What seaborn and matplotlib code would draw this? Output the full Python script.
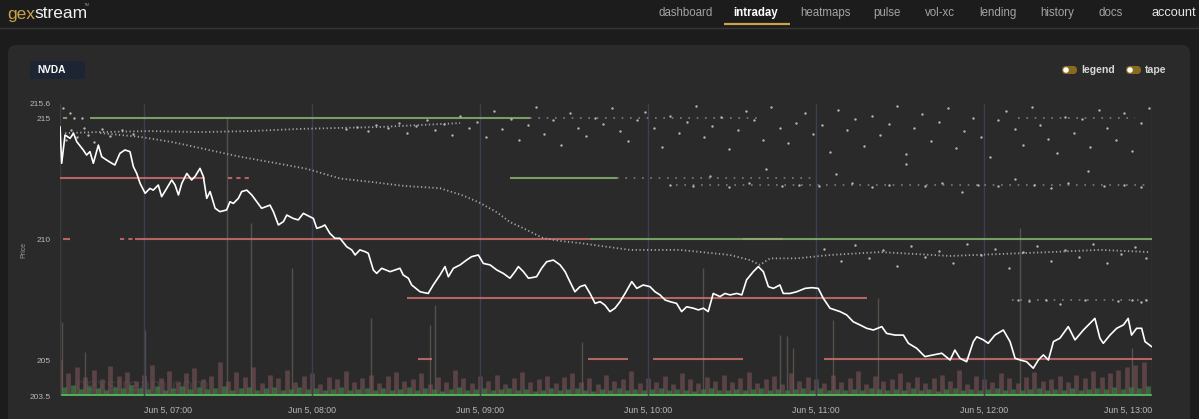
# plot.py
# gexstream intraday view for NVDA, rebuilt with seaborn / matplotlib
import numpy as np
import pandas as pd
import matplotlib.pyplot as plt
import seaborn as sns
from matplotlib.patches import FancyBboxPatch, Circle

# ---- price line (minutes after 06:30, price) ----
price_t = [0, 0.6, 1.8, 3.6, 4.8, 6, 8.3, 9.5, 10.7, 11.9, 13.7, 14.9, 16.7, 18.5, 19.6,
           21.4, 23.2, 25, 26.2, 27.4, 28.6, 30.4, 32.1, 33.3, 35.1, 36.3, 38.1, 39.9, 41.1,
           42.3, 43.5, 45.3, 47, 48.2, 50, 51.2, 52.4, 53.6, 55.4, 57.1, 59.5, 60.7, 61.9,
           63.7, 64.9, 66.7, 68.5, 70.3, 72, 75, 76.2, 78, 79.8, 81, 83.3, 85.1, 86.9, 89.3,
           90.5, 91.7, 93.5, 94.6, 96.4, 98.2, 100, 102.4, 104.2, 105.4, 107.1, 108.9, 110.1,
           111.9, 113.1, 114.9, 117.9, 119.6, 121.4, 122.6, 124.4, 125.6, 128.6, 131.5, 133.3,
           135.7, 137.5, 138.7, 140.5, 142.9, 145.2, 147, 149.4, 151.2, 153.6, 156, 158.3,
           160.7, 162.5, 163.7, 165.5, 167.3, 170.2, 172, 173.8, 176.2, 178.6, 180.4, 182.1,
           183.9, 185.7, 187.5, 189.3, 191.1, 192.9, 194.6, 196.4, 198.2, 200, 201.8, 204.2,
           206, 208.3, 210.7, 212.5, 214.3, 216.1, 217.9, 220.2, 222, 223.8, 226.2, 228,
           229.8, 231.5, 233.3, 235.7, 237.5, 239.3, 241.7, 243.5, 245.2, 247.6, 249.4, 251.2,
           253, 254.8, 257.1, 258.3, 260.7, 263.1, 266.1, 268.5, 270.8, 272.6, 275,
           278.6, 281, 283.3, 285.7, 288.1, 290.5, 293.5, 295.2, 298.2, 301.2, 303, 306,
           308.9, 311.9, 314.9, 317.9, 319.6, 321.4, 323.8, 326.2, 327.4, 329.8, 331.5, 333.9,
           336.9, 339.3, 341.1, 342.9, 345.2, 347.6, 349.4, 351.2, 353, 354.8, 357.1, 360.1,
           362.5, 365.5, 367.3, 369.6, 371.4, 372.6, 375, 377.4, 379.8, 381.5, 382.7, 384.5,
           386.3, 387.5, 389.9]
price_p = [214.64, 213.13, 214.30, 214.16, 214.37, 214.02, 213.68, 213.47, 213.61, 213.13,
           213.88, 213.40, 213.26, 213.13, 213.06, 213.54, 213.68, 213.61, 212.99, 212.71,
           212.30, 211.89, 212.09, 212.02, 212.23, 211.75, 212.09, 212.44, 212.23, 211.82,
           212.30, 212.71, 212.44, 212.58, 212.92, 212.58, 211.68, 211.96, 211.27, 211.13,
           211.20, 211.54, 211.47, 211.68, 211.96, 212.02, 211.82, 211.54, 211.27, 211.40,
           211.13, 210.58, 210.72, 210.99, 210.85, 210.79, 211.06, 210.92, 210.85, 210.44,
           210.51, 210.58, 210.23, 210.03, 210.03, 209.68, 209.55, 209.34, 209.55, 209.48,
           209.41, 208.72, 208.58, 208.79, 208.65, 208.72, 208.79, 208.51, 208.38, 208.10,
           207.82, 207.75, 208.10, 208.51,
           208.86, 208.44, 208.79, 208.93, 209.13, 209.27, 209.34, 208.99, 208.93, 208.72,
           208.58, 208.38, 208.65, 208.86, 208.65, 208.38, 208.44, 208.79, 209.06, 209.13,
           208.93, 208.65, 208.24, 207.82, 208.03, 208.10, 207.75, 207.34, 207.41, 207.27,
           207.00, 207.14, 207.41, 207.75, 208.24, 207.96, 208.10, 208.03, 207.82, 207.69,
           207.48, 207.41, 207.34, 207.00, 207.20, 207.14, 207.07, 207.14, 207.00, 207.75,
           207.62, 207.75, 207.69, 207.75, 207.69, 208.31, 208.65, 208.86, 208.65, 208.03,
           207.96, 208.10, 207.75, 207.75, 207.82, 207.96, 207.99, 207.96, 207.55, 207.14,
           207.00, 206.86, 206.58, 206.45, 206.31, 206.24, 206.38, 206.10, 206.03, 206.03,
           205.69, 205.48, 205.14, 205.21, 205.28, 205.00, 205.41, 205.07, 204.93, 205.76,
           205.96, 205.83, 205.69, 206.03, 206.24, 205.76, 205.07, 205.00, 204.93, 204.66,
           205.00, 205.21, 205.00, 205.76, 205.90, 206.38, 205.83, 206.24, 206.45, 206.72,
           205.90, 205.69, 206.03, 206.31, 206.45, 206.72, 206.03, 206.31, 206.31, 205.76,
           205.55]

# ---- dotted trails ----
upper_t = [1.8, 14.3, 32.1, 50, 67.9, 85.7, 100, 114.3, 128.6, 142.9]
upper_p = [214.38, 214.42, 214.46, 214.42, 214.46, 214.55, 214.59, 214.63, 214.71, 214.79]
lower_t = [14.3, 28.6, 40.4, 50, 64.3, 75, 88.2, 100, 111.8, 123.2, 135.7, 143.9, 150, 156.1,
           160.7, 165.4, 172.5, 178.6, 185.7, 203.6, 221.4, 239.3, 246.4, 250, 253.6, 263.2,
           275, 292.9, 317.9, 335.7, 353.6, 371.4, 389.3]
lower_p = [214.38, 214.22, 214.0, 213.76, 213.4, 213.18, 212.9, 212.5, 212.35, 212.19, 212.1,
           211.8, 211.49, 211.1, 210.7, 210.45, 210.04, 209.92, 209.83, 209.55, 209.55, 209.34,
           209.13, 208.93, 209.2, 209.2, 209.34, 209.46, 209.3, 209.38, 209.46, 209.55, 209.46]

# ---- scattered prints ----
cloud_t = [1, 2, 3.5, 4, 5, 6, 8, 8.5, 10, 12, 15, 18, 22, 26,
           102, 106, 110, 113, 117, 121, 124, 127, 131, 134, 137, 140, 143, 146, 149, 152,
           155, 158, 161, 164, 167, 170, 173, 176, 179, 182, 185, 188, 191, 194, 197, 200,
           203, 206, 209, 212, 215, 218, 221, 224, 227, 230, 233, 236, 239, 242, 245, 248,
           251, 254, 257, 260, 263, 266, 269, 272, 275, 278, 281, 284, 287, 290, 293, 296,
           299, 302, 305, 308, 311, 314, 317, 320, 323, 326, 329, 332, 335, 338, 341, 344,
           347, 350, 353, 356, 359, 362, 365, 368, 371, 374, 377, 380, 383, 386, 389,
           218, 226, 232, 239, 246, 252, 258, 264, 271, 277, 283, 290, 296, 302, 309, 315,
           322, 328, 335, 341, 348, 354, 360, 367, 373, 380, 386,
           273, 279, 284, 289, 294, 299, 304, 309, 314, 319, 324, 329, 334, 339, 344, 349,
           354, 359, 364, 369, 374, 379, 384, 388,
           342, 346, 352, 357, 366, 378, 383, 386, 388]
cloud_p = [215.4, 214.1, 215.2, 214.5, 215.0, 214.2, 215.0, 214.6, 214.3, 214.0, 214.55,
           214.25, 214.5, 214.35,
           214.55, 214.62, 214.45, 214.7, 214.58, 214.8, 214.4, 214.66, 214.9, 214.5, 214.75,
           214.3, 215.1, 214.6, 214.85, 214.2, 215.3, 214.55, 214.95, 214.1, 214.7, 215.45,
           214.35, 214.9, 213.9, 215.2, 214.6, 214.25, 215.0, 214.75, 215.4, 214.45, 214.05,
           214.9, 215.25, 214.6, 213.8, 215.1, 214.4, 214.85, 215.5, 214.2, 214.65, 215.05,
           213.7, 214.5, 215.3, 214.9, 214.1, 215.45, 214.6, 213.95, 214.8, 215.2, 214.35,
           214.7, 213.6, 215.35, 214.5, 214.95, 213.85, 215.1, 214.3, 214.75, 215.5, 213.5,
           214.6, 215.15, 214.05, 214.85, 215.4, 213.75, 214.45, 215.0, 214.2, 213.4, 214.9,
           215.3, 214.55, 213.9, 215.45, 214.7, 214.15, 213.55, 215.05, 214.4, 214.95, 213.8,
           215.35, 214.6, 214.1, 215.2, 213.65, 214.8, 215.4,
           212.25, 212.2, 212.6, 212.15, 212.3, 212.9, 212.2, 212.25, 212.2, 212.7, 212.3,
           212.15, 212.25, 213.1, 212.2, 212.3, 211.95, 212.25, 212.2, 212.5, 212.25, 212.1,
           212.3, 212.8, 212.2, 212.25, 212.15,
           209.6, 209.1, 209.75, 209.2, 209.55, 208.9, 209.7, 209.25, 209.5, 209.0, 209.8,
           209.35, 209.6, 208.8, 209.45, 209.7, 209.1, 209.55, 209.25, 209.8, 209.0, 209.4,
           209.65, 209.2,
           207.5, 207.45, 207.5, 207.3, 207.5, 207.45, 207.5, 207.4, 207.5]

# ---- key levels: price, start, end, kind ----
lvl_p = [212.51, 212.51, 210.0, 210.0, 210.0, 210.0, 207.56, 205.04, 205.04, 205.04, 205.04,
         215.0, 215.0, 212.51, 210.0, 210.0,
         215.0, 215.0, 212.51, 212.22, 207.5]
lvl_a = [0, 60, 1.0, 21.4, 26.8, 244, 123.9, 127.9, 188.6, 211.8, 272.9,
         1.0, 10.7, 160.7, 189.3, 194,
         168, 342, 199, 220, 340]
lvl_b = [51.8, 69, 3.6, 26.8, 189.3, 258.2, 288.2, 132.9, 202.9, 243.9, 390,
         3.6, 167.9, 198.9, 194, 390,
         250, 384, 269, 389, 389]
lvl_k = ['red', 'red_dot', 'red', 'red_dot', 'red', 'red', 'red', 'red', 'red', 'red', 'red',
         'green_dot', 'green', 'green', 'green', 'green',
         'grey_dot', 'grey_dot', 'grey_dot', 'grey_dot', 'grey_dot']

# ---- volume (3 minute slots) ----
vol_t = np.arange(0, 390, 3)
buy_vol = [38, 45, 30, 42, 35, 28, 40, 33, 47, 36, 30, 41, 27, 35, 44, 31, 38, 29, 36, 42,
           25, 33, 39, 28, 34, 40, 26, 31, 37, 29, 35, 27, 32, 38, 24, 30, 36, 28, 33, 25,
           31, 37, 26, 34, 29, 23, 32, 38, 27, 30, 35, 24, 29, 33, 26, 31, 22, 28, 34, 25,
           30, 36, 27, 23, 32, 28, 35, 26, 30, 24, 29, 33, 25, 31, 27, 22, 30, 35, 26, 28,
           32, 24, 29, 34, 27, 31, 25, 30, 36, 28, 33, 26, 29, 24, 31, 27, 35, 30, 25, 32,
           28, 34, 26, 30, 23, 29, 33, 27, 31, 25, 30, 36, 28, 32, 26, 29, 34, 27, 31, 25,
           33, 28, 30, 35, 29, 37, 32, 40, 36, 44]
sell_vol = [150, 95, 120, 80, 110, 70, 125, 85, 100, 65, 90, 130, 75, 105, 60, 95, 115, 70, 85, 140,
            65, 100, 80, 120, 55, 90, 75, 110, 60, 85, 95, 50, 80, 70, 105, 60, 75, 90, 55, 85,
            100, 65, 70, 95, 50, 80, 60, 110, 75, 55, 85, 65, 90, 50, 75, 100, 60, 70, 85, 55,
            80, 95, 60, 75, 50, 90, 65, 70, 105, 55, 75, 60, 85, 50, 95, 70, 55, 80, 65, 90,
            60, 75, 100, 55, 70, 85, 50, 95, 65, 80, 70, 55, 90, 60, 75, 105, 50, 85, 65, 70,
            95, 60, 80, 55, 75, 90, 65, 110, 50, 85, 70, 60, 95, 75, 55, 80, 100, 65, 70, 85,
            60, 90, 75, 105, 80, 95, 110, 120, 130, 140]
spike_t = [0.7, 8.9, 30.4, 59.6, 68.2, 82.9, 111.1, 132.1, 133.9, 186.4, 229.6, 257.1, 259.6,
           261.8, 276.1, 292.1, 342.9, 382.9]
spike_v = [307, 183, 274, 1150, 716, 530, 324, 295, 377, 224, 530, 253, 250, 200, 315, 406,
           695, 200]

# ---- axis labels ----
hour_t = [30, 90, 150, 210, 270, 330, 390]
hour_lbl = ['Jun 5, 07:00', 'Jun 5, 08:00', 'Jun 5, 09:00', 'Jun 5, 10:00',
            'Jun 5, 11:00', 'Jun 5, 12:00', 'Jun 5, 13:00']
ytick_v = [203.5, 205, 210, 215, 215.6]
ytick_lbl = ['203.5', '205', '210', '215', '215.6']
nav_items = ['dashboard', 'intraday', 'heatmaps', 'pulse', 'vol-xc', 'lending', 'history', 'docs']
nav_x = [686, 756, 825, 887, 940, 998, 1057, 1111]

sns.set_theme(style="dark")
plt.rcParams['font.family'] = ['Liberation Sans', 'DejaVu Sans']

W, H = 1199, 419
fig = plt.figure(figsize=(W / 100, H / 100), dpi=100)
fig.patch.set_facecolor('#1c1c1c')

# page chrome in pixel coordinates
bg = fig.add_axes([0, 0, 1, 1])
bg.set_xlim(0, W)
bg.set_ylim(H, 0)
bg.axis('off')
bg.axhline(28.5, color='#363636', lw=1)
bg.add_patch(FancyBboxPatch((8, 45), 1182, 420, boxstyle='round,pad=0,rounding_size=8',
                            fc='#2a2a2a', ec='none'))
bg.text(7, 14, 'gex', color='#c9a24a', fontsize=12.5, va='center', ha='left')
bg.text(34, 14, 'stream', color='#f2f2f2', fontsize=12.5, va='center', ha='left')
bg.text(84, 5, 'TM', color='#8a8a8a', fontsize=3, va='center', ha='left')
for name, x in zip(nav_items, nav_x):
    if name == 'intraday':
        bg.text(x, 13, name, color='white', fontsize=8.3, fontweight='bold', ha='center', va='center')
    else:
        bg.text(x, 13, name, color='#a3a3a3', fontsize=8.3, ha='center', va='center')
bg.text(1174, 13, 'account', color='#e6e6e6', fontsize=9.2, ha='center', va='center')
bg.plot([724, 790], [24, 24], color='#c9a24a', lw=1.6, solid_capstyle='butt')

# ticker badge and toggles
bg.add_patch(FancyBboxPatch((30, 61), 55, 18, boxstyle='round,pad=0,rounding_size=2',
                            fc='#1d2433', ec='none'))
bg.text(37, 70, 'NVDA', color='white', fontsize=7.3, fontweight='bold', va='center')
for px, label in [(1062, 'legend'), (1126, 'tape')]:
    bg.add_patch(FancyBboxPatch((px, 66), 15, 8, boxstyle='round,pad=0,rounding_size=4',
                                fc='#8a6a1f', ec='none'))
    bg.add_patch(Circle((px + 4, 70), 2.8, fc='white', ec='none'))
    bg.text(px + 19, 70, label, color='#d6d6d6', fontsize=7.6, fontweight='bold', va='center')
bg.text(24, 250, 'Price', color='#9a9a9a', fontsize=5, rotation=90, ha='center', va='center')

rect = [60 / W, 1 - 396.3 / H, 1092 / W, 292.8 / H]

# volume underlay
axv = fig.add_axes(rect)
axv.set_xlim(0, 390)
axv.set_ylim(0, 1210)
axv.axis('off')
axv.text(5.5, 42, 'gexstream.com', color='#3b3b3b', fontsize=14, va='center', zorder=1)
axv.vlines(spike_t, 0, spike_v, color='#5e5a52', lw=1, alpha=0.8, zorder=2)
axv.vlines(vol_t, 0, sell_vol, color='#7a5458', lw=3.4, alpha=0.6, zorder=3)
axv.vlines(vol_t + 1.5, 0, buy_vol, color='#3f7d44', lw=3.4, alpha=0.75, zorder=4)
axv.axhline(4, color='#55b05a', lw=1.4, zorder=5)

# price axes
ax = fig.add_axes(rect)
ax.set_facecolor('none')
ax.set_xlim(0, 390)
ax.set_ylim(203.5, 215.6)
for s in ax.spines.values():
    s.set_visible(False)
ax.grid(False)
ax.vlines(hour_t, 203.5, 215.6, color='#3b4050', lw=1, zorder=0)
ax.axvline(0, color='#3d3d3d', lw=1, zorder=0)

styles = {'red': dict(color='#cf6e6e', lw=1.5, ls='-'),
          'red_dot': dict(color='#cf6e6e', lw=1.5, ls=(0, (2, 2))),
          'green': dict(color='#86b46e', lw=1.5, ls='-'),
          'green_dot': dict(color='#86b46e', lw=1.5, ls=(0, (2, 2))),
          'grey_dot': dict(color='#8a8a8a', lw=1.2, ls=(0, (1, 4)))}
for p, a, b, k in zip(lvl_p, lvl_a, lvl_b, lvl_k):
    ax.hlines(p, a, b, colors=styles[k]['color'], linewidth=styles[k]['lw'],
              linestyles=[styles[k]['ls']], zorder=2, alpha=0.85)

ax.plot(upper_t, upper_p, color='#a5a5a5', lw=1.3, ls=(0, (0.7, 1.4)), zorder=3)
ax.plot(lower_t, lower_p, color='#a5a5a5', lw=1.3, ls=(0, (0.7, 1.4)), zorder=3)
sns.scatterplot(x=cloud_t, y=cloud_p, ax=ax, s=3, color='#b4b4b4', linewidth=0,
                zorder=3, legend=False)

df = pd.DataFrame({'t': price_t, 'price': price_p})
sns.lineplot(data=df, x='t', y='price', ax=ax, color='white', linewidth=1.2,
             estimator=None, sort=False, zorder=5)

ax.set_xlabel('')
ax.set_ylabel('')
ax.set_xticks(hour_t)
ax.set_xticklabels(hour_lbl)
ax.set_yticks(ytick_v)
ax.set_yticklabels(ytick_lbl)
ax.tick_params(axis='x', length=0, pad=7, labelsize=6.3, colors='#b8b8b8')
ax.tick_params(axis='y', length=0, pad=7, labelsize=6, colors='#b8b8b8')
labels = ax.get_xticklabels()
labels[0].set_ha('left')
labels[-1].set_ha('right')

fig.savefig('out.png', dpi=100, facecolor=fig.get_facecolor())
